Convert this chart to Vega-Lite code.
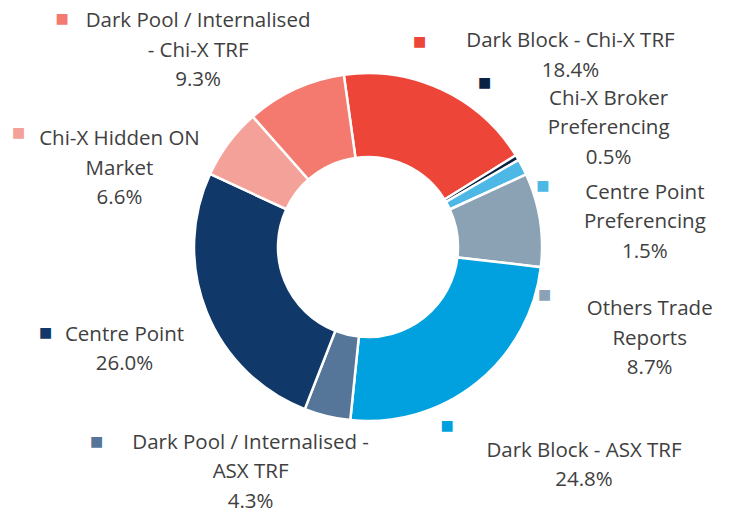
{
  "$schema": "https://vega.github.io/schema/vega-lite/v6.json",
  "width": 722,
  "height": 494,
  "autosize": {"type": "none"},
  "padding": {"left": 7, "top": 0, "right": 0, "bottom": 19},
  "background": "white",
  "view": {"stroke": null},
  "data": {
    "values": [
      {"rank": 1, "category": "Dark Block - Chi-X TRF", "label": "Dark Block - Chi-X TRF", "share": 18.4},
      {"rank": 2, "category": "Chi-X Broker Preferencing", "label": "Chi-X Broker\nPreferencing", "share": 0.5},
      {"rank": 3, "category": "Centre Point Preferencing", "label": "Centre Point\nPreferencing", "share": 1.5},
      {"rank": 4, "category": "Others Trade Reports", "label": "Others Trade\nReports", "share": 8.7},
      {"rank": 5, "category": "Dark Block - ASX TRF", "label": "Dark Block - ASX TRF", "share": 24.8},
      {"rank": 6, "category": "Dark Pool / Internalised - ASX TRF", "label": "Dark Pool / Internalised -\nASX TRF", "share": 4.3},
      {"rank": 7, "category": "Centre Point", "label": "Centre Point", "share": 26.0},
      {"rank": 8, "category": "Chi-X Hidden ON Market", "label": "Chi-X Hidden ON\nMarket", "share": 6.6},
      {"rank": 9, "category": "Dark Pool / Internalised - Chi-X TRF", "label": "Dark Pool / Internalised\n- Chi-X TRF", "share": 9.3}
    ]
  },
  "transform": [
    {"calculate": "datum.label + '\\n' + format(datum.share, '.1f') + '%'", "as": "display"}
  ],
  "encoding": {
    "theta": {"field": "share", "type": "quantitative", "stack": true, "scale": {"range": [-0.1396, 6.1436]}},
    "order": {"field": "rank", "type": "quantitative"}
  },
  "layer": [
    {
      "mark": {"type": "arc", "innerRadius": 90, "outerRadius": 174, "stroke": "white", "strokeWidth": 2.5},
      "encoding": {
        "color": {
          "field": "category", "type": "nominal", "legend": null,
          "scale": {
            "domain": ["Dark Block - Chi-X TRF", "Chi-X Broker Preferencing", "Centre Point Preferencing", "Others Trade Reports", "Dark Block - ASX TRF", "Dark Pool / Internalised - ASX TRF", "Centre Point", "Chi-X Hidden ON Market", "Dark Pool / Internalised - Chi-X TRF"],
            "range": ["#EE4539", "#0B2241", "#4DB8E6", "#8BA1B4", "#00A1DE", "#557599", "#10396A", "#F4A199", "#F47A70"]
          }
        }
      }
    },
    {
      "mark": {
        "type": "text", "radius": 270, "font": "Open Sans", "fontSize": 20.5, "lineHeight": 29.5,
        "lineBreak": "\n", "align": "center", "baseline": "middle", "fill": "#404040",
        "dx": {"expr": "[88, 9, 37, 15, 47, -54, 7, -32, -57][datum.rank - 1]"},
        "dy": {"expr": "[39, -9.5, 69.5, 104.5, -7, -66.5, -13, 53.5, 19.5][datum.rank - 1]"}
      },
      "encoding": {
        "detail": {"field": "category"},
        "text": {"field": "display"}
      }
    },
    {
      "mark": {
        "type": "text", "radius": 270, "font": "DejaVu Sans", "fontSize": 14,
        "align": "center", "baseline": "middle", "text": "■",
        "dx": {"expr": "[-63, -115, -65, -90, -90, -208, -72, -133, -193][datum.rank - 1]"},
        "dy": {"expr": "[40, -25, 63, 90, -32, -67, -15, 47, 17][datum.rank - 1]"}
      },
      "encoding": {
        "color": {"field": "category", "type": "nominal", "legend": null}
      }
    }
  ]
}
